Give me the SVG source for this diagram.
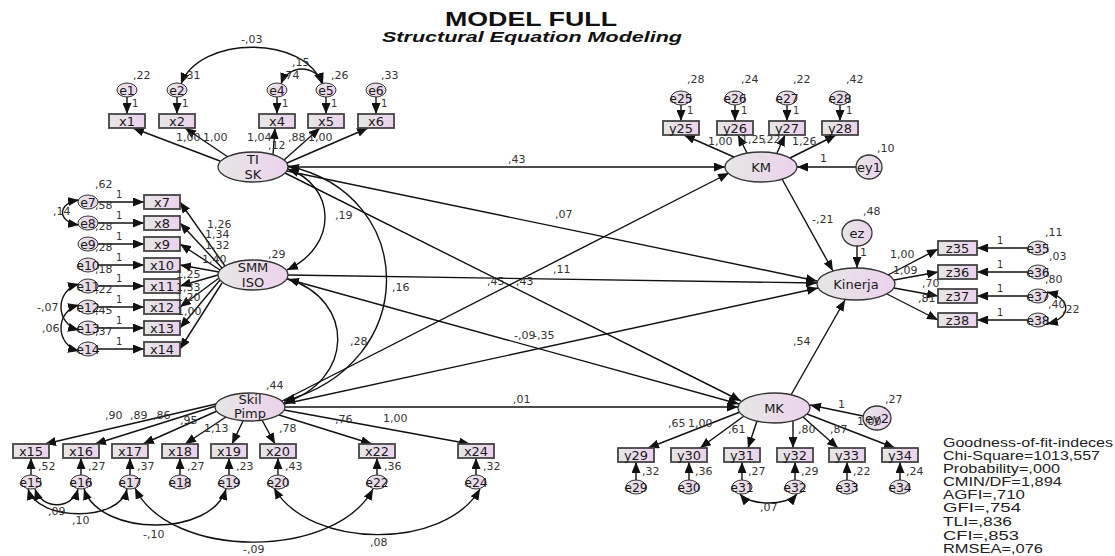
<svg xmlns="http://www.w3.org/2000/svg" width="1115" height="556" viewBox="0 0 1115 556">
<defs>
<linearGradient id="g" x1="0" y1="0" x2="1" y2="0"><stop offset="0" stop-color="#e6e6e6"/><stop offset="1" stop-color="#ecd2ec"/></linearGradient>
<marker id="ah" viewBox="0 0 11 9" refX="11" refY="4.5" markerWidth="11" markerHeight="9" markerUnits="userSpaceOnUse" orient="auto-start-reverse"><path d="M0,0 L11,4.5 L0,9 z" fill="#111"/></marker>
</defs>
<style>
.c{fill:none;stroke:#111;stroke-width:1.4}
.a{marker-end:url(#ah)}
.d{marker-start:url(#ah);marker-end:url(#ah)}
.lat{fill:url(#g);stroke:#333;stroke-width:1.3}
.obs{fill:url(#g);stroke:#444;stroke-width:1.8}
.err{fill:url(#g);stroke:#333;stroke-width:1}
.t{font-family:"DejaVu Sans",sans-serif;font-size:11px;fill:#333}
.s{font-size:10px}
.nl{font-family:"DejaVu Sans",sans-serif;font-size:13px;fill:#1a1a1a;text-anchor:middle}
.el{font-size:12.5px}
.gof{font-family:"Liberation Sans",Arial,sans-serif;font-size:13px;fill:#222}
.ttl{font-family:"Liberation Sans",Arial,sans-serif;font-weight:bold;fill:#111}
</style>
<rect width="1115" height="556" fill="#fff"/>
<g id="title">
<text class="ttl" x="445" y="26" font-size="20" textLength="172" lengthAdjust="spacingAndGlyphs">MODEL FULL</text>
<text class="ttl" x="382" y="42" font-size="15" font-style="italic" textLength="300" lengthAdjust="spacingAndGlyphs">Structural Equation Modeling</text>
</g>
<g id="connectors" class="c">
<path class="a" d="M127,97 L127,114"/><path class="a" d="M177,97 L177,114"/><path class="a" d="M277,97 L277,114"/><path class="a" d="M326,97 L326,114"/><path class="a" d="M376,97 L376,114"/>
<path class="a" d="M220,161 L133,128"/><path class="a" d="M228,157 L185,128"/><path class="a" d="M273,155 L275,128"/><path class="a" d="M284,160 L320,128"/><path class="a" d="M287,163 L368,128"/>
<path class="d" d="M181,84 C200,35 305,35 322,84"/>
<path class="d" d="M281,84 C288,64 316,64 323,84"/>
<path class="a" d="M98,202 L144,202"/><path class="a" d="M98,223 L144,223"/><path class="a" d="M98,244 L144,244"/><path class="a" d="M98,265 L144,265"/><path class="a" d="M98,286 L144,286"/><path class="a" d="M98,307 L144,307"/><path class="a" d="M98,328 L144,328"/><path class="a" d="M98,349 L144,349"/>
<path class="d" d="M79,200 C57,203 57,222 79,225"/>
<path class="d" d="M79,284 C55,290 55,324 79,330"/>
<path class="d" d="M79,305 C55,311 55,345 79,351"/>
<path class="a" d="M225,266 L180,202"/><path class="a" d="M222,268 L180,223"/><path class="a" d="M220,270 L180,244"/><path class="a" d="M219,272 L180,265"/><path class="a" d="M218,275 L180,286"/><path class="a" d="M219,278 L180,307"/><path class="a" d="M220,280 L180,328"/><path class="a" d="M222,283 L180,349"/>
<path class="a" d="M216,404 L45,444"/><path class="a" d="M216,406 L95,444"/><path class="a" d="M217,411 L143,444"/><path class="a" d="M226,417 L185,444"/><path class="a" d="M243,421 L232,444"/><path class="a" d="M262,420 L275,444"/><path class="a" d="M279,415 L372,444"/><path class="a" d="M284,410 L470,444"/>
<path class="a" d="M31,475 L31,458"/><path class="a" d="M81,475 L81,458"/><path class="a" d="M130,475 L130,458"/><path class="a" d="M180,475 L180,458"/><path class="a" d="M229,475 L229,458"/><path class="a" d="M278,475 L278,458"/><path class="a" d="M377,475 L377,458"/><path class="a" d="M476,475 L476,458"/>
<path class="d" d="M35,489 C42,510 72,510 78,489"/>
<path class="d" d="M28,489 C38,522 120,522 127,489"/>
<path class="d" d="M84,489 C100,537 212,537 226,489"/>
<path class="d" d="M135,488 C170,560 335,560 373,489"/>
<path class="d" d="M274,488 C310,550 445,550 480,489"/>
<path class="d" d="M288,169 C335,185 340,245 287,270"/>
<path class="d" d="M288,166 C420,195 420,365 284,401"/>
<path class="d" d="M288,279 C355,300 355,380 284,403"/>
<path class="a" d="M288,167 L725,167"/>
<path class="a" d="M282,401 L729,173"/>
<path class="a" d="M285,173 L741,401"/>
<path class="a" d="M287,279 L739,404"/>
<path class="a" d="M285,407 L738,407"/>
<path class="a" d="M287,171 L817,281"/>
<path class="a" d="M288,275 L817,283"/>
<path class="a" d="M284,404 L818,288"/>
<path class="a" d="M782,179 L833,271"/>
<path class="a" d="M791,395 L845,300"/>
<path class="a" d="M857,246 L857,268"/>
<path class="a" d="M856,167 L797,167"/>
<path class="a" d="M863,416 L810,405"/>
<path class="a" d="M681,105 L681,121"/><path class="a" d="M735,105 L735,121"/><path class="a" d="M787,105 L787,121"/><path class="a" d="M840,105 L840,121"/>
<path class="a" d="M734,157 L684,135"/><path class="a" d="M747,153 L738,135"/><path class="a" d="M777,153 L785,135"/><path class="a" d="M790,158 L836,135"/>
<path class="a" d="M888,275 L938,249"/><path class="a" d="M894,280 L938,272"/><path class="a" d="M894,288 L938,296"/><path class="a" d="M887,294 L938,320"/>
<path class="a" d="M1028,248 L977,248"/><path class="a" d="M1028,272 L977,272"/><path class="a" d="M1028,296 L977,296"/><path class="a" d="M1028,320 L977,320"/>
<path class="d" d="M1047,292 C1072,298 1072,318 1047,324"/>
<path class="a" d="M740,412 L648,448"/><path class="a" d="M744,416 L700,448"/><path class="a" d="M757,421 L748,448"/><path class="a" d="M793,421 L793,448"/><path class="a" d="M803,417 L838,448"/><path class="a" d="M807,414 L895,448"/>
<path class="a" d="M636,480 L636,462"/><path class="a" d="M689,480 L689,462"/><path class="a" d="M742,480 L742,462"/><path class="a" d="M795,480 L795,462"/><path class="a" d="M847,480 L847,462"/><path class="a" d="M900,480 L900,462"/>
<path class="d" d="M740,494 C750,506 787,506 797,494"/>
</g>
<g id="TISK"><ellipse class="lat" cx="253" cy="167" rx="35" ry="15"/><text class="nl" x="253" y="164" font-size="14">TI</text><text class="nl" x="253" y="179" font-size="14">SK</text></g>
<g id="SMMISO"><ellipse class="lat" cx="253" cy="275" rx="35" ry="15"/><text class="nl" x="253" y="272" font-size="14">SMM</text><text class="nl" x="253" y="287" font-size="14">ISO</text></g>
<g id="SkilPimp"><ellipse class="lat" cx="250" cy="407" rx="35" ry="14"/><text class="nl" x="250" y="404" font-size="14">Skil</text><text class="nl" x="250" y="418" font-size="14">Pimp</text></g>
<g id="KM"><ellipse class="lat" cx="761" cy="167" rx="36" ry="15"/><text class="nl" x="761" y="172" font-size="14.5">KM</text></g>
<g id="Kinerja"><ellipse class="lat" cx="856" cy="284" rx="39" ry="16"/><text class="nl" x="856" y="289" font-size="14.5">Kinerja</text></g>
<g id="MK"><ellipse class="lat" cx="774" cy="408" rx="36" ry="15"/><text class="nl" x="774" y="413" font-size="14.5">MK</text></g>
<g id="ey1"><ellipse class="lat" cx="869" cy="167" rx="13" ry="12"/><text class="nl" x="869" y="172">ey1</text></g>
<g id="ey2"><ellipse class="lat" cx="877" cy="418" rx="14" ry="12"/><text class="nl" x="877" y="423">ey2</text></g>
<g id="ez"><ellipse class="lat" cx="857" cy="233" rx="15" ry="13"/><text class="nl" x="857" y="238">ez</text></g>
<g id="x1"><rect class="obs" x="109" y="114" width="36" height="14"/><text class="nl" x="127" y="126">x1</text></g>
<g id="x2"><rect class="obs" x="159" y="114" width="36" height="14"/><text class="nl" x="177" y="126">x2</text></g>
<g id="x4"><rect class="obs" x="259" y="114" width="36" height="14"/><text class="nl" x="277" y="126">x4</text></g>
<g id="x5"><rect class="obs" x="308" y="114" width="36" height="14"/><text class="nl" x="326" y="126">x5</text></g>
<g id="x6"><rect class="obs" x="358" y="114" width="36" height="14"/><text class="nl" x="376" y="126">x6</text></g>
<g id="x7"><rect class="obs" x="144" y="195" width="36" height="14"/><text class="nl" x="162" y="207">x7</text></g>
<g id="x8"><rect class="obs" x="144" y="216" width="36" height="14"/><text class="nl" x="162" y="228">x8</text></g>
<g id="x9"><rect class="obs" x="144" y="237" width="36" height="14"/><text class="nl" x="162" y="249">x9</text></g>
<g id="x10"><rect class="obs" x="144" y="258" width="36" height="14"/><text class="nl" x="162" y="270">x10</text></g>
<g id="x11"><rect class="obs" x="144" y="279" width="36" height="14"/><text class="nl" x="162" y="291">x11</text></g>
<g id="x12"><rect class="obs" x="144" y="300" width="36" height="14"/><text class="nl" x="162" y="312">x12</text></g>
<g id="x13"><rect class="obs" x="144" y="321" width="36" height="14"/><text class="nl" x="162" y="333">x13</text></g>
<g id="x14"><rect class="obs" x="144" y="342" width="36" height="14"/><text class="nl" x="162" y="354">x14</text></g>
<g id="x15"><rect class="obs" x="13" y="444" width="36" height="14"/><text class="nl" x="31" y="456">x15</text></g>
<g id="x16"><rect class="obs" x="63" y="444" width="36" height="14"/><text class="nl" x="81" y="456">x16</text></g>
<g id="x17"><rect class="obs" x="112" y="444" width="36" height="14"/><text class="nl" x="130" y="456">x17</text></g>
<g id="x18"><rect class="obs" x="162" y="444" width="36" height="14"/><text class="nl" x="180" y="456">x18</text></g>
<g id="x19"><rect class="obs" x="211" y="444" width="36" height="14"/><text class="nl" x="229" y="456">x19</text></g>
<g id="x20"><rect class="obs" x="260" y="444" width="36" height="14"/><text class="nl" x="278" y="456">x20</text></g>
<g id="x22"><rect class="obs" x="359" y="444" width="36" height="14"/><text class="nl" x="377" y="456">x22</text></g>
<g id="x24"><rect class="obs" x="458" y="444" width="36" height="14"/><text class="nl" x="476" y="456">x24</text></g>
<g id="y25"><rect class="obs" x="663" y="121" width="36" height="14"/><text class="nl" x="681" y="133">y25</text></g>
<g id="y26"><rect class="obs" x="717" y="121" width="36" height="14"/><text class="nl" x="735" y="133">y26</text></g>
<g id="y27"><rect class="obs" x="769" y="121" width="36" height="14"/><text class="nl" x="787" y="133">y27</text></g>
<g id="y28"><rect class="obs" x="822" y="121" width="36" height="14"/><text class="nl" x="840" y="133">y28</text></g>
<g id="y29"><rect class="obs" x="618" y="448" width="36" height="14"/><text class="nl" x="636" y="460">y29</text></g>
<g id="y30"><rect class="obs" x="671" y="448" width="36" height="14"/><text class="nl" x="689" y="460">y30</text></g>
<g id="y31"><rect class="obs" x="724" y="448" width="36" height="14"/><text class="nl" x="742" y="460">y31</text></g>
<g id="y32"><rect class="obs" x="777" y="448" width="36" height="14"/><text class="nl" x="795" y="460">y32</text></g>
<g id="y33"><rect class="obs" x="829" y="448" width="36" height="14"/><text class="nl" x="847" y="460">y33</text></g>
<g id="y34"><rect class="obs" x="882" y="448" width="36" height="14"/><text class="nl" x="900" y="460">y34</text></g>
<g id="z35"><rect class="obs" x="938" y="241" width="39" height="14"/><text class="nl" x="957.5" y="253">z35</text></g>
<g id="z36"><rect class="obs" x="938" y="265" width="39" height="14"/><text class="nl" x="957.5" y="277">z36</text></g>
<g id="z37"><rect class="obs" x="938" y="289" width="39" height="14"/><text class="nl" x="957.5" y="301">z37</text></g>
<g id="z38"><rect class="obs" x="938" y="313" width="39" height="14"/><text class="nl" x="957.5" y="325">z38</text></g>
<g id="e1"><ellipse class="err" cx="127" cy="90" rx="10" ry="7"/><text class="nl el" x="127" y="94.5">e1</text></g>
<g id="e2"><ellipse class="err" cx="177" cy="90" rx="10" ry="7"/><text class="nl el" x="177" y="94.5">e2</text></g>
<g id="e4"><ellipse class="err" cx="277" cy="90" rx="10" ry="7"/><text class="nl el" x="277" y="94.5">e4</text></g>
<g id="e5"><ellipse class="err" cx="326" cy="90" rx="10" ry="7"/><text class="nl el" x="326" y="94.5">e5</text></g>
<g id="e6"><ellipse class="err" cx="376" cy="90" rx="10" ry="7"/><text class="nl el" x="376" y="94.5">e6</text></g>
<g id="e7"><ellipse class="err" cx="88" cy="202" rx="10" ry="7"/><text class="nl el" x="88" y="206.5">e7</text></g>
<g id="e8"><ellipse class="err" cx="88" cy="223" rx="10" ry="7"/><text class="nl el" x="88" y="227.5">e8</text></g>
<g id="e9"><ellipse class="err" cx="88" cy="244" rx="10" ry="7"/><text class="nl el" x="88" y="248.5">e9</text></g>
<g id="e10"><ellipse class="err" cx="88" cy="265" rx="10" ry="7"/><text class="nl el" x="88" y="269.5">e10</text></g>
<g id="e11"><ellipse class="err" cx="88" cy="286" rx="10" ry="7"/><text class="nl el" x="88" y="290.5">e11</text></g>
<g id="e12"><ellipse class="err" cx="88" cy="307" rx="10" ry="7"/><text class="nl el" x="88" y="311.5">e12</text></g>
<g id="e13"><ellipse class="err" cx="88" cy="328" rx="10" ry="7"/><text class="nl el" x="88" y="332.5">e13</text></g>
<g id="e14"><ellipse class="err" cx="88" cy="349" rx="10" ry="7"/><text class="nl el" x="88" y="353.5">e14</text></g>
<g id="e15"><ellipse class="err" cx="31" cy="482" rx="10" ry="7"/><text class="nl el" x="31" y="486.5">e15</text></g>
<g id="e16"><ellipse class="err" cx="81" cy="482" rx="10" ry="7"/><text class="nl el" x="81" y="486.5">e16</text></g>
<g id="e17"><ellipse class="err" cx="130" cy="482" rx="10" ry="7"/><text class="nl el" x="130" y="486.5">e17</text></g>
<g id="e18"><ellipse class="err" cx="180" cy="482" rx="10" ry="7"/><text class="nl el" x="180" y="486.5">e18</text></g>
<g id="e19"><ellipse class="err" cx="229" cy="482" rx="10" ry="7"/><text class="nl el" x="229" y="486.5">e19</text></g>
<g id="e20"><ellipse class="err" cx="278" cy="482" rx="10" ry="7"/><text class="nl el" x="278" y="486.5">e20</text></g>
<g id="e22"><ellipse class="err" cx="377" cy="482" rx="10" ry="7"/><text class="nl el" x="377" y="486.5">e22</text></g>
<g id="e24"><ellipse class="err" cx="476" cy="482" rx="10" ry="7"/><text class="nl el" x="476" y="486.5">e24</text></g>
<g id="e25"><ellipse class="err" cx="681" cy="98" rx="10" ry="7"/><text class="nl el" x="681" y="102.5">e25</text></g>
<g id="e26"><ellipse class="err" cx="735" cy="98" rx="10" ry="7"/><text class="nl el" x="735" y="102.5">e26</text></g>
<g id="e27"><ellipse class="err" cx="787" cy="98" rx="10" ry="7"/><text class="nl el" x="787" y="102.5">e27</text></g>
<g id="e28"><ellipse class="err" cx="840" cy="98" rx="10" ry="7"/><text class="nl el" x="840" y="102.5">e28</text></g>
<g id="e29"><ellipse class="err" cx="636" cy="487" rx="10" ry="7"/><text class="nl el" x="636" y="491.5">e29</text></g>
<g id="e30"><ellipse class="err" cx="689" cy="487" rx="10" ry="7"/><text class="nl el" x="689" y="491.5">e30</text></g>
<g id="e31"><ellipse class="err" cx="742" cy="487" rx="10" ry="7"/><text class="nl el" x="742" y="491.5">e31</text></g>
<g id="e32"><ellipse class="err" cx="795" cy="487" rx="10" ry="7"/><text class="nl el" x="795" y="491.5">e32</text></g>
<g id="e33"><ellipse class="err" cx="847" cy="487" rx="10" ry="7"/><text class="nl el" x="847" y="491.5">e33</text></g>
<g id="e34"><ellipse class="err" cx="900" cy="487" rx="10" ry="7"/><text class="nl el" x="900" y="491.5">e34</text></g>
<g id="e35"><ellipse class="err" cx="1038" cy="248" rx="10" ry="7"/><text class="nl el" x="1038" y="252.5">e35</text></g>
<g id="e36"><ellipse class="err" cx="1038" cy="272" rx="10" ry="7"/><text class="nl el" x="1038" y="276.5">e36</text></g>
<g id="e37"><ellipse class="err" cx="1038" cy="296" rx="10" ry="7"/><text class="nl el" x="1038" y="300.5">e37</text></g>
<g id="e38"><ellipse class="err" cx="1038" cy="320" rx="10" ry="7"/><text class="nl el" x="1038" y="324.5">e38</text></g>
<g id="labels" class="t">
<text x="133" y="79">,22</text><text x="183" y="79">,31</text><text x="282" y="79">,74</text><text x="331" y="79">,26</text><text x="381" y="79">,33</text>
<text class="s" x="132" y="107">1</text><text class="s" x="182" y="107">1</text><text class="s" x="282" y="107">1</text><text class="s" x="331" y="107">1</text><text class="s" x="381" y="107">1</text>
<text x="241" y="43">-,03</text><text x="292" y="66">,15</text>
<text x="176" y="141">1,00</text><text x="203" y="141">1,00</text><text x="247" y="141">1,04</text><text x="268" y="149">,12</text><text x="288" y="141">,88</text><text x="308" y="141">1,00</text>
<text x="95" y="188">,62</text><text x="95" y="209">,58</text><text x="95" y="230">,28</text><text x="95" y="251">,28</text><text x="95" y="273">,18</text><text x="95" y="293">,22</text><text x="95" y="314">,45</text><text x="95" y="335">,37</text>
<text class="s" x="116" y="198">1</text><text class="s" x="116" y="219">1</text><text class="s" x="116" y="240">1</text><text class="s" x="116" y="261">1</text><text class="s" x="116" y="282">1</text><text class="s" x="116" y="303">1</text><text class="s" x="116" y="324">1</text><text class="s" x="116" y="345">1</text>
<text x="53" y="215">,14</text><text x="37" y="311">-,07</text><text x="42" y="332">,06</text>
<text x="207" y="228">1,26</text><text x="205" y="238">1,34</text><text x="205" y="249">1,32</text><text x="202" y="263">1,40</text><text x="176" y="278">1,25</text><text x="176" y="291">1,33</text><text x="176" y="301">1,20</text><text x="177" y="315">1,00</text>
<text x="268" y="258">,29</text>
<text x="335" y="219">,19</text><text x="392" y="291">,16</text><text x="350" y="345">,28</text>
<text x="266" y="389">,44</text>
<text x="105" y="419">,90</text><text x="130" y="419">,89</text><text x="153" y="419">,86</text><text x="180" y="424">,95</text><text x="204" y="432">1,13</text><text x="279" y="432">,78</text><text x="335" y="423">,76</text><text x="383" y="422">1,00</text>
<text x="38" y="470">,52</text><text x="88" y="470">,27</text><text x="137" y="470">,37</text><text x="187" y="470">,27</text><text x="236" y="470">,23</text><text x="285" y="470">,43</text><text x="384" y="470">,36</text><text x="483" y="470">,32</text>
<text x="48" y="515">,09</text><text x="72" y="524">,10</text><text x="143" y="538">-,10</text><text x="243" y="553">-,09</text><text x="370" y="546">,08</text>
<text x="687" y="83">,28</text><text x="741" y="83">,24</text><text x="793" y="83">,22</text><text x="846" y="83">,42</text>
<text class="s" x="687" y="114">1</text><text class="s" x="741" y="114">1</text><text class="s" x="793" y="114">1</text><text class="s" x="846" y="114">1</text>
<text x="708" y="145">1,00</text><text x="741" y="143">1,25</text><text x="763" y="143">,22</text><text x="792" y="145">1,26</text>
<text x="508" y="163">,43</text><text x="877" y="152">,10</text><text x="820" y="162">1</text>
<text x="555" y="218">,07</text><text x="553" y="273">,11</text><text x="812" y="223">-,21</text><text x="863" y="215">,48</text><text x="860" y="256">1</text>
<text x="890" y="258">1,00</text><text x="893" y="274">1,09</text><text x="922" y="287">,70</text><text x="918" y="302">,81</text>
<text class="s" x="997" y="244">1</text><text class="s" x="997" y="268">1</text><text class="s" x="997" y="292">1</text><text class="s" x="997" y="316">1</text>
<text x="1045" y="236">,11</text><text x="1049" y="260">,03</text><text x="1045" y="283">,80</text><text x="1048" y="308">,40</text><text x="1062" y="313">,22</text>
<text x="487" y="285">,45</text><text x="516" y="285">,43</text>
<text x="514" y="339">-,09</text><text x="533" y="339">-,35</text>
<text x="513" y="403">,01</text><text x="793" y="345">,54</text>
<text x="885" y="403">,27</text><text x="838" y="408">1</text>
<text x="668" y="427">,65</text><text x="688" y="427">1,00</text><text x="728" y="433">,61</text><text x="798" y="433">,80</text><text x="830" y="433">,87</text><text x="857" y="425">1,00</text>
<text x="642" y="475">,32</text><text x="695" y="475">,36</text><text x="748" y="475">,27</text><text x="801" y="475">,29</text><text x="853" y="475">,22</text><text x="906" y="475">,24</text>
<text x="760" y="511">,07</text>
</g>
<g id="fit" class="gof">
<text x="943" y="447" textLength="170" lengthAdjust="spacingAndGlyphs">Goodness-of-fit-indeces</text>
<text x="943" y="460" textLength="157" lengthAdjust="spacingAndGlyphs">Chi-Square=1013,557</text>
<text x="943" y="473" textLength="117" lengthAdjust="spacingAndGlyphs">Probability=,000</text>
<text x="943" y="486" textLength="119" lengthAdjust="spacingAndGlyphs">CMIN/DF=1,894</text>
<text x="943" y="499" textLength="82" lengthAdjust="spacingAndGlyphs">AGFI=,710</text>
<text x="943" y="512" textLength="78" lengthAdjust="spacingAndGlyphs">GFI=,754</text>
<text x="943" y="526" textLength="69" lengthAdjust="spacingAndGlyphs">TLI=,836</text>
<text x="943" y="540" textLength="76" lengthAdjust="spacingAndGlyphs">CFI=,853</text>
<text x="943" y="553" textLength="100" lengthAdjust="spacingAndGlyphs">RMSEA=,076</text>
</g>
</svg>
